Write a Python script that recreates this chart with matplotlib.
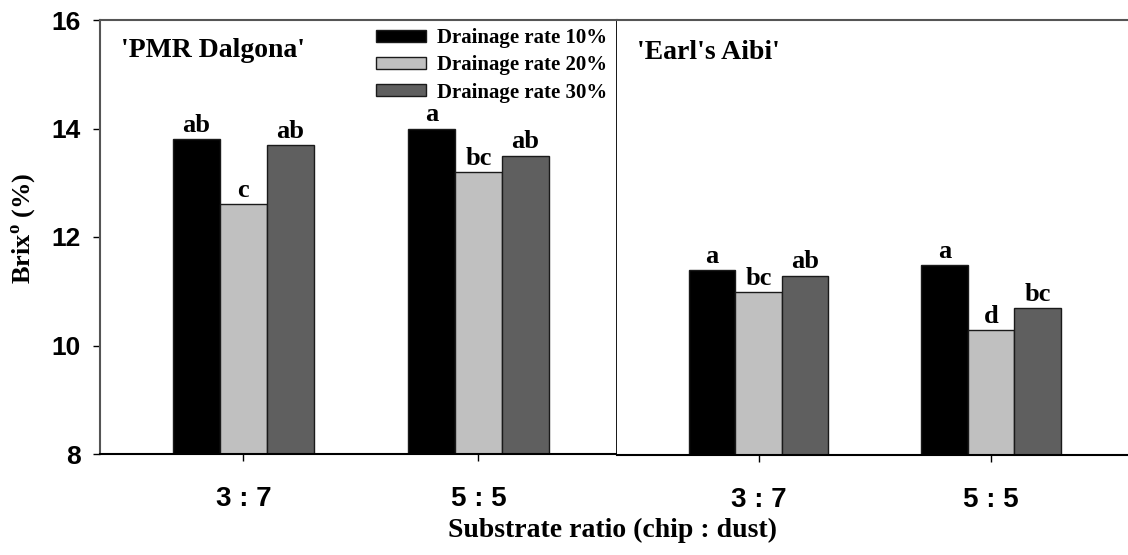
import numpy as np
import matplotlib
matplotlib.use("Agg")
import matplotlib.pyplot as plt

plt.rcParams["mathtext.fontset"] = "custom"
plt.rcParams["mathtext.rm"] = "Liberation Serif:bold"
plt.rcParams["mathtext.bf"] = "Liberation Serif:bold"

RATIOS = ["3 : 7", "5 : 5"]
SERIES = ["Drainage rate 10%", "Drainage rate 20%", "Drainage rate 30%"]
COLORS = ["#000000", "#c0c0c0", "#5f5f5f"]

CULTIVARS = ["'PMR Dalgona'", "'Earl's Aibi'"]
# brix values [cultivar][series][ratio]
BRIX = [
    [[13.8, 14.0], [12.6, 13.2], [13.7, 13.5]],
    [[11.4, 11.5], [11.0, 10.3], [11.3, 10.7]],
]
LETTERS = [
    [["ab", "a"], ["c", "bc"], ["ab", "ab"]],
    [["a", "a"], ["bc", "d"], ["ab", "bc"]],
]

SERIF = "Liberation Serif"
SANS = "Liberation Sans"

fig = plt.figure(figsize=(11.28, 5.55), dpi=100)
ax_l = fig.add_axes([100 / 1128, 1 - 454 / 555, 517 / 1128, 434 / 555])
ax_r = fig.add_axes([617 / 1128, 1 - 455 / 555, 511 / 1128, 435 / 555])

x = np.arange(len(RATIOS))
width = 0.2

for k, ax in enumerate([ax_l, ax_r]):
    for i, (name, color) in enumerate(zip(SERIES, COLORS)):
        xs = x + (i - 1) * width
        vals = BRIX[k][i]
        ax.bar(xs, vals, width, bottom=0, color=color, edgecolor="#1a1a1a",
               linewidth=1.0, label=name, zorder=2)
        for xp, v, lab in zip(xs, vals, LETTERS[k][i]):
            ax.text(xp, v + 0.04, lab, ha="center", va="bottom",
                    fontsize=19, fontweight="bold", family=SERIF)
    ax.set_ylim(8, 16)
    ax.set_xlim(-0.61, 1.59)
    ax.set_xticks(x)
    ax.set_xticklabels(RATIOS, fontsize=20, fontweight="bold", family=SANS)
    ax.tick_params(axis="x", direction="out", length=5, width=1, pad=18)
    ax.spines["top"].set_color("#555555")
    ax.spines["top"].set_linewidth(1.5)
    ax.spines["bottom"].set_linewidth(1.5)

ax_l.set_yticks([8, 10, 12, 14, 16])
ax_l.set_yticklabels(["8", "10", "12", "14", "16"], fontsize=19,
                     fontweight="bold", family=SANS)
ax_l.tick_params(axis="y", direction="out", length=5, width=1, pad=9)
ax_l.spines["left"].set_color("#555555")
ax_l.spines["left"].set_linewidth(1.5)
ax_l.spines["right"].set_linewidth(2)
ax_l.spines["right"].set_color("#000000")

ax_r.set_yticks([])
ax_r.spines["left"].set_visible(False)
ax_r.spines["right"].set_visible(False)

ax_l.text(0.04, 0.93, CULTIVARS[0], transform=ax_l.transAxes, ha="left",
          va="center", fontsize=20, fontweight="bold", family=SERIF)
ax_r.text(0.04, 0.925, CULTIVARS[1], transform=ax_r.transAxes, ha="left",
          va="center", fontsize=20, fontweight="bold", family=SERIF)

ax_l.legend(loc="upper left", bbox_to_anchor=(0.51, 1.01), frameon=False,
            prop={"family": SERIF, "weight": "bold", "size": 15},
            handlelength=2.4, handleheight=0.5, labelspacing=0.35,
            handletextpad=0.5, borderaxespad=0.2)

ax_l.set_ylabel(r"Brix$^{\mathrm{o}}$ (%)", fontsize=19, fontweight="bold",
                family=SERIF)
ax_l.yaxis.set_label_coords(-0.12, 0.52)
fig.text(612 / 1128, 1 - 530 / 555, "Substrate ratio (chip : dust)",
         ha="center", va="center", fontsize=20, fontweight="bold", family=SERIF)

fig.savefig("out.png", dpi=100)
